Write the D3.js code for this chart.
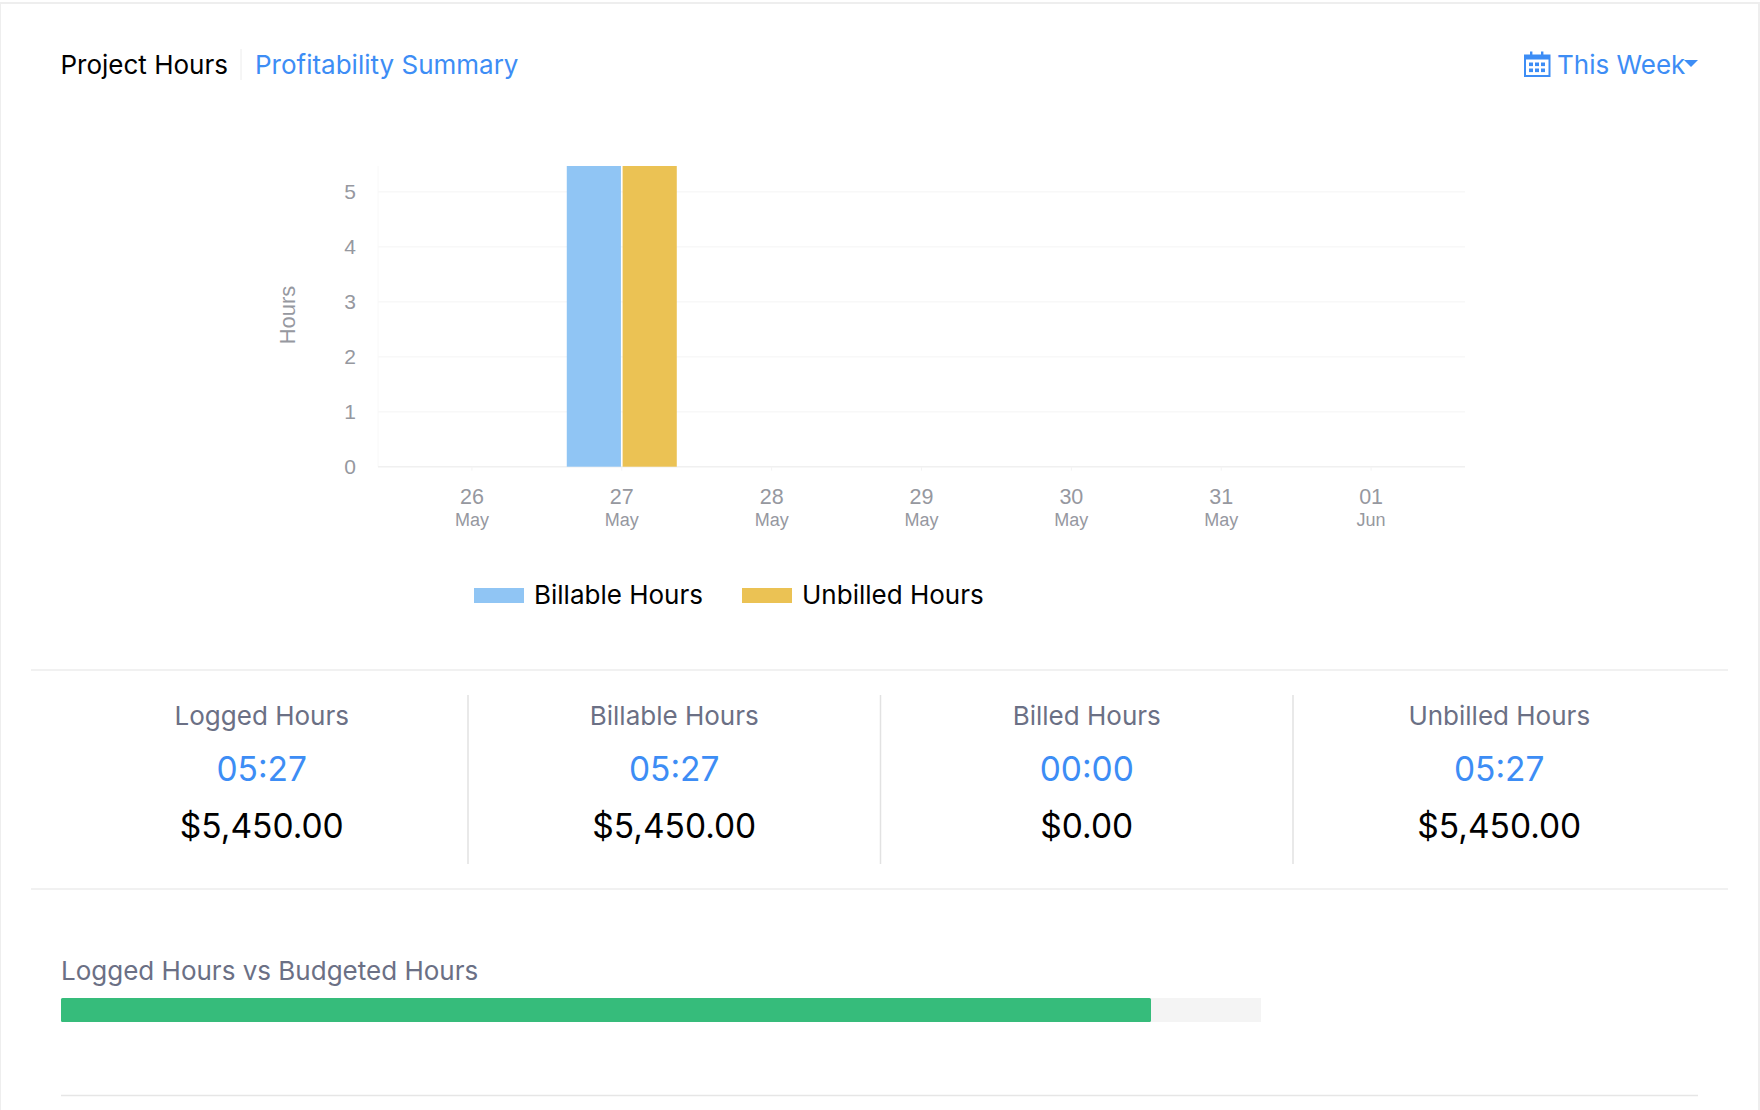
<!DOCTYPE html>
<html>
<head>
<meta charset="utf-8">
<script src="https://cdn.jsdelivr.net/npm/d3@7"></script>
<style>
  html, body { margin: 0; padding: 0; background: #fff; }
  svg { display: block; }
  text { font-family: Inter, "Noto Sans", sans-serif; }
  .axis text { font-family: "Liberation Sans", Arial, sans-serif; fill: #96989f; }
</style>
</head>
<body>
<div id="chart"></div>
<script>
const days = ['26', '27', '28', '29', '30', '31', '01']
const months = ['May', 'May', 'May', 'May', 'May', 'May', 'Jun']
const seriesNames = ['Billable Hours', 'Unbilled Hours']
const billableHours = [0, 5.47, 0, 0, 0, 0, 0]
const unbilledHours = [0, 5.47, 0, 0, 0, 0, 0]
const yTicks = [0, 1, 2, 3, 4, 5]

const summaryLabels = ['Logged Hours', 'Billable Hours', 'Billed Hours', 'Unbilled Hours']
const summaryTimes = ['05:27', '05:27', '00:00', '05:27']
const summaryAmounts = ['$5,450.00', '$5,450.00', '$0.00', '$5,450.00']

const loggedHours = 5.45
const budgetedHours = 6

const BLUE = '#3d8df5'
const colors = { 'Billable Hours': '#90c5f4', 'Unbilled Hours': '#ebc254' }
const RULE = '#ececec'

const svg = d3.select('#chart').append('svg')
    .attr('width', 1760)
    .attr('height', 1110)

// card edges
svg.append('rect').attr('x', 0).attr('y', 2).attr('width', 1760).attr('height', 2).attr('fill', '#eeeeee')
svg.append('rect').attr('x', 0).attr('y', 3).attr('width', 1).attr('height', 1107).attr('fill', '#eeeeee')
svg.append('rect').attr('x', 1758).attr('y', 3).attr('width', 2).attr('height', 1107).attr('fill', '#eeeeee')

function renderHeader() {
    svg.append('text').attr('x', 60.5).attr('y', 73.5)
        .attr('font-size', 26).attr('fill', '#000').text('Project Hours')
    svg.append('line').attr('x1', 241).attr('x2', 241).attr('y1', 49).attr('y2', 80)
        .attr('stroke', '#ececec')
    svg.append('text').attr('x', 255).attr('y', 73.5)
        .attr('font-size', 26).attr('fill', BLUE).text('Profitability Summary')

    const icon = svg.append('g').attr('transform', 'translate(1524,51.5)').attr('fill', BLUE)
    icon.append('rect').attr('x', 1).attr('y', 4).attr('width', 24.5).attr('height', 20.5)
        .attr('fill', 'none').attr('stroke', BLUE).attr('stroke-width', 2)
    icon.append('rect').attr('x', 1).attr('y', 4).attr('width', 24.5).attr('height', 4)
    icon.selectAll('.peg').data([6, 17]).enter().append('rect')
        .attr('x', d => d).attr('y', 0).attr('width', 2.4).attr('height', 6)
    const cells = d3.cross([5, 11, 17], [11, 17])
    icon.selectAll('.cell').data(cells).enter().append('rect')
        .attr('x', d => d[0]).attr('y', d => d[1]).attr('width', 4).attr('height', 3.6)

    svg.append('text').attr('x', 1557).attr('y', 74)
        .attr('font-size', 26).attr('fill', BLUE).text('This Week')
    svg.append('path').attr('d', 'M1684,60 L1698,60 L1691,67 Z').attr('fill', BLUE)
}

function renderChart() {
    const x = d3.scalePoint().domain(d3.range(days.length)).range([378.5, 1463.5]).padding(0.62)
    const barX = d3.scaleBand().domain(seriesNames).range([-54.5, 55.5]).paddingInner(0.03)
    const y = d3.scaleLinear().domain([0, 5.47]).range([466.7, 166])

    const grid = svg.append('g')
    grid.selectAll('line').data(yTicks.filter(d => d > 0)).enter().append('line')
        .attr('x1', 378).attr('x2', 1465)
        .attr('y1', d => y(d)).attr('y2', d => y(d))
        .attr('stroke', '#f8f8f8').attr('stroke-width', 1.5)
    grid.append('line').attr('x1', 378).attr('x2', 378).attr('y1', 166).attr('y2', 466.7)
        .attr('stroke', '#f8f8f8')

    const yAxis = svg.append('g').attr('class', 'axis')
        .attr('transform', 'translate(356,-0.4)')
        .call(d3.axisLeft(y).tickValues(yTicks).tickSize(0).tickPadding(0).tickFormat(d3.format('d')))
    yAxis.select('.domain').remove()
    yAxis.selectAll('text').attr('font-size', 21)

    const xAxis = svg.append('g').attr('class', 'axis')
        .attr('transform', 'translate(0,466.7)')
        .call(d3.axisBottom(x).tickSize(4).tickSizeOuter(0).tickPadding(0).tickFormat(i => days[i]))
    xAxis.select('.domain').attr('d', 'M378,0H1465').attr('stroke', '#f0f0f0').attr('stroke-width', 1.5)
    xAxis.selectAll('line').attr('stroke', '#f3f3f3')
    xAxis.selectAll('.tick text')
        .attr('y', 37.5).attr('dy', null).attr('font-size', 21.5)
    xAxis.selectAll('.tick').append('text')
        .attr('y', 59.5).attr('text-anchor', 'middle').attr('font-size', 18)
        .text(i => months[i])

    svg.append('text').attr('class', 'axis-title')
        .attr('transform', 'translate(295,315) rotate(-90)')
        .attr('text-anchor', 'middle').attr('font-size', 22).attr('fill', '#96989f')
        .style('font-family', '"Liberation Sans", Arial, sans-serif')
        .text('Hours')

    const barData = [billableHours, unbilledHours]
    seriesNames.forEach((name, s) => {
        svg.append('g').selectAll('rect').data(barData[s]).enter().append('rect')
            .attr('x', (d, i) => x(i) + barX(name))
            .attr('y', d => y(d))
            .attr('width', barX.bandwidth())
            .attr('height', d => y(0) - y(d))
            .attr('fill', colors[name])
    })

    // legend
    const legendX = [474, 742]
    seriesNames.forEach((name, s) => {
        const item = svg.append('g').attr('transform', `translate(${legendX[s]},588)`)
        item.append('rect').attr('width', 50).attr('height', 15).attr('fill', colors[name])
        item.append('text').attr('x', 60).attr('y', 16)
            .attr('font-size', 26).attr('fill', '#000').text(name)
    })
}

function renderSummary() {
    const rules = [670, 889]
    svg.append('g').selectAll('line').data(rules).enter().append('line')
        .attr('x1', 31).attr('x2', 1728).attr('y1', d => d).attr('y2', d => d)
        .attr('stroke', RULE).attr('stroke-width', 1.5)

    const col = d3.scaleBand().domain(d3.range(summaryLabels.length)).range([55.5, 1705.5])
    const dividers = d3.range(1, summaryLabels.length)
    svg.append('g').selectAll('line').data(dividers).enter().append('line')
        .attr('x1', i => col(i)).attr('x2', i => col(i)).attr('y1', 695).attr('y2', 864)
        .attr('stroke', '#e2e2e2').attr('stroke-width', 1.5)

    const center = i => col(i) + col.bandwidth() / 2
    const rows = [
        { values: summaryLabels, y: 725, size: 26, fill: '#6b7085' },
        { values: summaryTimes, y: 781, size: 33.5, fill: BLUE },
        { values: summaryAmounts, y: 838, size: 33.5, fill: '#000' },
    ]
    rows.forEach(row => {
        svg.append('g').selectAll('text').data(row.values).enter().append('text')
            .attr('x', (d, i) => center(i)).attr('y', row.y)
            .attr('text-anchor', 'middle')
            .attr('font-size', row.size).attr('fill', row.fill)
            .text(d => d)
    })
}

function renderBudget() {
    svg.append('text').attr('x', 61).attr('y', 980)
        .attr('font-size', 26).attr('fill', '#6b7085').text('Logged Hours vs Budgeted Hours')

    const scale = d3.scaleLinear().domain([0, budgetedHours]).range([61, 1261])
    svg.append('rect').attr('x', scale(0)).attr('y', 998)
        .attr('width', scale(budgetedHours) - scale(0)).attr('height', 24).attr('fill', '#f4f4f4')
    svg.append('rect').attr('x', scale(0)).attr('y', 998)
        .attr('width', scale(loggedHours) - scale(0)).attr('height', 24).attr('rx', 1.5).attr('fill', '#36bc7b')

    svg.append('line').attr('x1', 61).attr('x2', 1698).attr('y1', 1095.5).attr('y2', 1095.5)
        .attr('stroke', '#e6e6e6').attr('stroke-width', 1.5)
}

renderHeader()
renderChart()
renderSummary()
renderBudget()
</script>
</body>
</html>
